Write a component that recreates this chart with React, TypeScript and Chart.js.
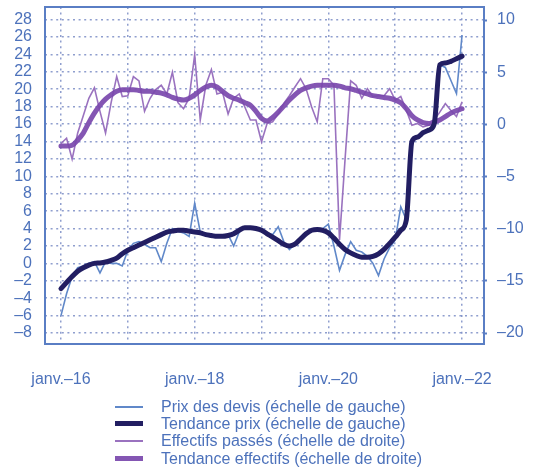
import React, { useEffect, useRef } from 'react';
import { Chart, registerables } from 'chart.js';

Chart.register(...registerables);

// Month index 0 = janv.-16, 72 = janv.-22
const PRIX_DEVIS = [
  -6, -3.5, -1.5, -0.5, -0.3, 0, 0.2, -1.1, 0.2, 0,
  0, -0.3, 1.5, 2.3, 2.5, 2.2, 1.8, 1.8, 0.2, 2.3,
  4, 3.7, 3.5, 3.1, 6.9, 3.6, 3.3, 3.2, 3, 3.1,
  3.3, 2.0, 3.6, 4.2, 4.1, 4.0, 3.8, 3.5, 3.3, 4.2,
  2.5, 1.6, 2.2, 3.0, 3.5, 3.8, 4.0, 4.0, 4.5, 2.0,
  -0.8, 1.0, 2.5, 1.5, 1.3, 0.8, 0.0, -1.4, 0.5, 1.8,
  2.7, 6.5, 5.0, 14.0, 14.5, 15.0, 15.3, 16.0, 22.8, 22.5,
  21.0, 19.5, 26.2,
];

const TENDANCE_PRIX = [
  -2.9, -2.2, -1.5, -0.9, -0.5, -0.2, 0, 0.05, 0.15, 0.35,
  0.6, 1.1, 1.5, 1.8, 2.1, 2.4, 2.7, 3.0, 3.3, 3.6,
  3.7, 3.8, 3.8, 3.7, 3.6, 3.5, 3.3, 3.2, 3.1, 3.1,
  3.2, 3.4, 3.8, 4.1, 4.1, 4.0, 3.8, 3.4, 3.0, 2.6,
  2.2, 2.0, 2.2, 2.8, 3.4, 3.8, 3.9, 3.8, 3.5, 2.9,
  2.2, 1.6, 1.2, 0.9, 0.7, 0.7, 0.8, 1.1, 1.6, 2.3,
  3.0, 3.8, 5.0, 14.0, 14.5, 15.0, 15.3, 16.0, 22.8, 23.0,
  23.2, 23.5, 23.8,
];

const EFFECTIFS = [
  -1.83, -1.33, -3.33, -0.83, 0.83, 2.5, 3.5, 1.25, -0.83, 2.08,
  4.58, 2.67, 2.75, 4.58, 4.17, 1.25, 2.5, 3.33, 3.75, 2.92,
  5.0, 2.08, 1.5, 2.5, 6.67, 0.42, 3.75, 5.25, 2.92, 3.08,
  1.0, 2.5, 2.92, 1.67, 0.42, 0.42, -1.67, 0.08, 0.25, 1.0,
  2.0, 2.75, 3.58, 4.38, 3.42, 1.67, 0.25, 4.38, 4.38, 3.75,
  -11.08, -3.33, 4.17, 3.75, 2.5, 3.42, 2.67, 2.75, 2.75, 3.42,
  2.33, 2.67, 1.33, -0.08, 0.08, -0.25, -0.08, 0.42, 1.17, 2.0,
  1.33, 0.75, 2.17,
];

const TENDANCE_EFFECTIFS = [
  -2.08, -2.08, -2.0, -1.5, -0.83, 0.17, 1.08, 1.83, 2.42, 2.83,
  3.17, 3.33, 3.33, 3.33, 3.25, 3.17, 3.17, 3.08, 3.0, 2.83,
  2.58, 2.42, 2.33, 2.5, 2.83, 3.25, 3.58, 3.75, 3.58, 3.17,
  2.75, 2.5, 2.33, 2.08, 1.83, 1.25, 0.58, 0.33, 0.67, 1.17,
  1.75, 2.33, 2.83, 3.25, 3.5, 3.67, 3.75, 3.75, 3.75, 3.75,
  3.67, 3.5, 3.42, 3.25, 3.08, 2.92, 2.75, 2.67, 2.58, 2.5,
  2.33, 2.08, 1.5, 0.83, 0.42, 0.17, 0.08, 0.25, 0.42, 0.75,
  1.08, 1.33, 1.5,
];

const X_TICKS = [0, 12, 24, 36, 48, 60, 72];
const X_TICK_LABELS = ['janv.–16', '', 'janv.–18', '', 'janv.–20', '', 'janv.–22'];
const LEFT_TICKS = [28, 26, 24, 22, 20, 18, 16, 14, 12, 10, 8, 6, 4, 2, 0, -2, -4, -6, -8];
const RIGHT_TICKS = [10, 5, 0, -5, -10, -15, -20];

const SERIES_NAMES = [
  'Prix des devis (échelle de gauche)',
  'Tendance prix (échelle de gauche)',
  'Effectifs passés (échelle de droite)',
  'Tendance effectifs (échelle de droite)',
];

const FONT_FAMILY = '"Liberation Sans", Arial, Helvetica, sans-serif';
const TEXT_COLOR = '#4d72bb';
const FRAME_COLOR = '#5a7ec4';
const GRID_COLOR = 'rgba(105, 125, 190, 0.75)';
const COLORS = ['#6088c9', '#221e62', '#9a72bf', 'rgba(122, 72, 172, 0.92)'];
const WIDTHS = [1.6, 5, 1.6, 5];

const fmt = (v: number) => (v < 0 ? '–' + Math.abs(v) : String(v));

export default function App() {
  const ref = useRef<HTMLCanvasElement | null>(null);

  useEffect(() => {
    if (!ref.current) return;
    const toXY = (arr: number[]) => arr.map((v, i) => ({ x: i, y: v }));
    const font = { family: FONT_FAMILY, size: 16 };

    const framePlugin = {
      id: 'frame',
      beforeDatasetsDraw(chart: any) {
        const { ctx, chartArea: a } = chart;
        ctx.save();
        ctx.strokeStyle = FRAME_COLOR;
        ctx.lineWidth = 2;
        ctx.strokeRect(a.left, a.top, a.right - a.left, a.bottom - a.top);
        ctx.restore();
      },
    };

    const chart = new Chart(ref.current, {
      type: 'line',
      data: {
        datasets: [
          {
            label: SERIES_NAMES[0],
            data: toXY(PRIX_DEVIS),
            yAxisID: 'y',
            borderColor: COLORS[0],
            borderWidth: WIDTHS[0],
            pointRadius: 0,
            tension: 0,
            order: 2,
          },
          {
            label: SERIES_NAMES[1],
            data: toXY(TENDANCE_PRIX),
            yAxisID: 'y',
            borderColor: COLORS[1],
            borderWidth: WIDTHS[1],
            pointRadius: 0,
            cubicInterpolationMode: 'monotone',
            borderCapStyle: 'round',
            borderJoinStyle: 'round',
            order: 0,
          },
          {
            label: SERIES_NAMES[2],
            data: toXY(EFFECTIFS),
            yAxisID: 'y1',
            borderColor: COLORS[2],
            borderWidth: WIDTHS[2],
            pointRadius: 0,
            tension: 0,
            order: 3,
          },
          {
            label: SERIES_NAMES[3],
            data: toXY(TENDANCE_EFFECTIFS),
            yAxisID: 'y1',
            borderColor: COLORS[3],
            borderWidth: WIDTHS[3],
            pointRadius: 0,
            cubicInterpolationMode: 'monotone',
            borderCapStyle: 'round',
            borderJoinStyle: 'round',
            order: 1,
          },
        ],
      },
      options: {
        responsive: false,
        animation: false,
        events: [],
        layout: { padding: { left: 0, right: 0, top: 7, bottom: 66 } },
        plugins: { legend: { display: false }, tooltip: { enabled: false } },
        scales: {
          x: {
            type: 'linear',
            min: -2.87,
            max: 75.94,
            afterBuildTicks: (s: any) => {
              s.ticks = X_TICKS.map((v) => ({ value: v }));
            },
            afterFit: (s: any) => {
              s.height = 60;
              s.paddingLeft = 0;
              s.paddingRight = 0;
            },
            ticks: {
              autoSkip: false,
              maxRotation: 0,
              padding: 26,
              color: TEXT_COLOR,
              font,
              callback: (_v: any, i: number) => X_TICK_LABELS[i] ?? '',
            },
            grid: { color: GRID_COLOR, lineWidth: 1.5, drawTicks: false },
            border: { display: false, dash: [2, 3.6] },
          },
          y: {
            type: 'linear',
            position: 'left',
            min: -9.26,
            max: 29.44,
            afterBuildTicks: (s: any) => {
              s.ticks = LEFT_TICKS.map((v) => ({ value: v }));
            },
            afterFit: (s: any) => {
              s.width = 45;
              s.paddingTop = 0;
              s.paddingBottom = 0;
            },
            ticks: {
              autoSkip: false,
              padding: 13,
              color: TEXT_COLOR,
              font,
              callback: (v: any) => fmt(Number(v)),
            },
            grid: { color: GRID_COLOR, lineWidth: 1.5, drawTicks: false },
            border: { display: false, dash: [2, 3.6] },
          },
          y1: {
            type: 'linear',
            position: 'right',
            min: -21.05,
            max: 11.25,
            afterBuildTicks: (s: any) => {
              s.ticks = RIGHT_TICKS.map((v) => ({ value: v }));
            },
            afterFit: (s: any) => {
              s.width = 52;
              s.paddingTop = 0;
              s.paddingBottom = 0;
            },
            ticks: {
              autoSkip: false,
              padding: 10,
              color: TEXT_COLOR,
              font,
              callback: (v: any) => fmt(Number(v)),
            },
            grid: {
              drawOnChartArea: false,
              drawTicks: true,
              tickLength: 3,
              tickColor: FRAME_COLOR,
              tickWidth: 2,
            },
            border: { display: false },
          },
        },
      },
      plugins: [framePlugin],
    } as any);

    return () => chart.destroy();
  }, []);

  return (
    <div style={{ position: 'fixed', left: 0, top: 0, width: 536, height: 470, background: '#fff' }}>
      <canvas ref={ref} width={536} height={470} style={{ display: 'block', width: 536, height: 470 }} />
      <div style={{ position: 'absolute', left: 115, top: 398, fontFamily: FONT_FAMILY, fontSize: 16, color: TEXT_COLOR }}>
        {SERIES_NAMES.map((name, i) => (
          <div key={name} style={{ display: 'flex', alignItems: 'center', height: 17.2, whiteSpace: 'nowrap' }}>
            <div style={{ width: 28, height: WIDTHS[i] < 3 ? 2 : 5, background: COLORS[i], marginRight: 18, flex: 'none' }} />
            <span style={{ lineHeight: '17.2px' }}>{name}</span>
          </div>
        ))}
      </div>
    </div>
  );
}
